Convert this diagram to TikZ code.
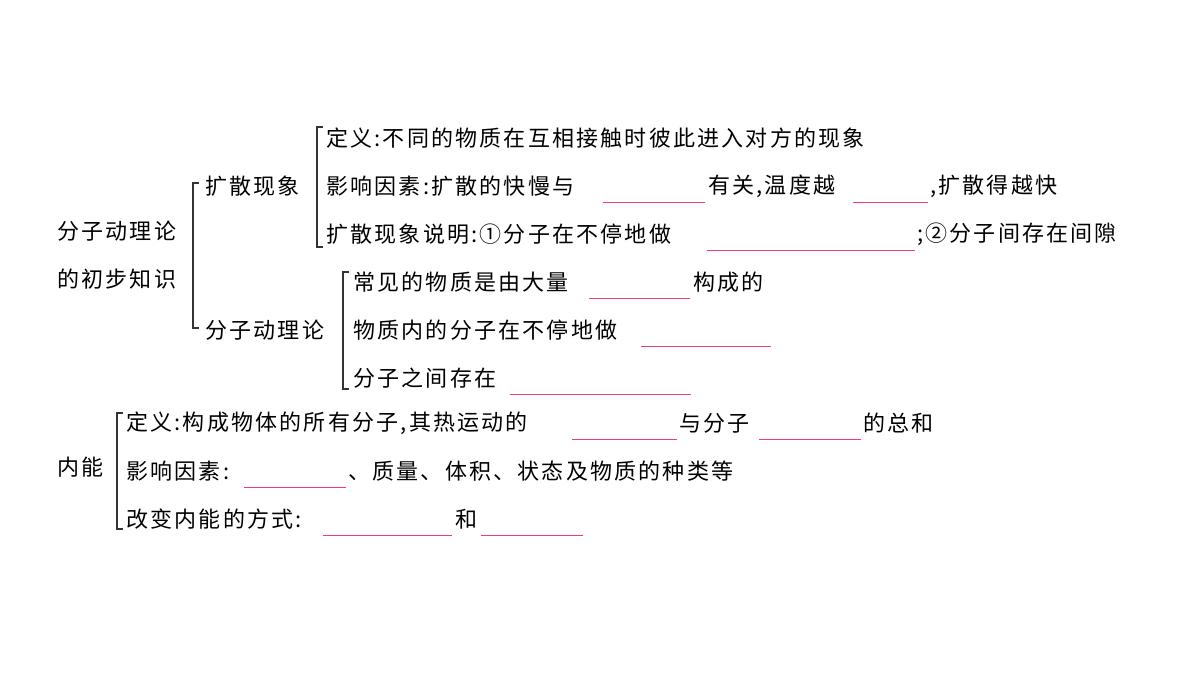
\documentclass[tikz,border=0pt]{standalone}
\usepackage{fontspec}
\setmainfont{Noto Sans CJK SC}[LetterSpace=10]
\begin{document}
\begin{tikzpicture}[x=0.75pt,y=-0.75pt,
  t/.style={anchor=west,inner sep=0pt,font=\fontsize{16.5}{18}\selectfont},
  br/.style={line width=0.8pt,black!80},
  bl/.style={line width=0.6pt,magenta!70!red!80}]
\useasboundingbox (0,0) rectangle (1200,675);
% brackets
\draw[br] (199,183) -- (193,183) -- (193,328) -- (199,328);
\draw[br] (323,127) -- (317,127) -- (317,247) -- (323,247);
\draw[br] (349,272) -- (343,272) -- (343,389) -- (349,389);
\draw[br] (123,413) -- (117,413) -- (117,529) -- (123,529);
% left labels
\node[t] (a1) at (57,231) {分子动理论};
\node[t] (a2) at (57,279) {的初步知识};
\node[t] (k) at (205,186) {扩散现象};
\node[t] (f) at (205,330) {分子动理论};
\node[t] (n) at (57,467) {内能};
% diffusion
\node[t] (d1) at (326,138) {定义:不同的物质在互相接触时彼此进入对方的现象};
\node[t] (d2) at (326,186) {影响因素:扩散的快慢与};
\node[t] (d2b) at (708,186) {有关,温度越};
\node[t] (d2c) at (930,186) {,扩散得越快};
\node[t] (d3) at (326,234) {扩散现象说明:①分子在不停地做};
\node[t] (d3b) at (917,234) {;②分子间存在间隙};
% theory
\node[t] (m1) at (353,282) {常见的物质是由大量};
\node[t] (m1b) at (693,282) {构成的};
\node[t] (m2) at (353,330) {物质内的分子在不停地做};
\node[t] (m3) at (353,378) {分子之间存在};
% internal energy
\node[t] (e1) at (126,423) {定义:构成物体的所有分子,其热运动的};
\node[t] (e1b) at (679,423) {与分子};
\node[t] (e1c) at (863,423) {的总和};
\node[t] (e2) at (126,471) {影响因素:};
\node[t] (e2b) at (348,471) {、质量、体积、状态及物质的种类等};
\node[t] (e3) at (126,519) {改变内能的方式:};
\node[t] (e3b) at (455,519) {和};
% blanks
\draw[bl] (603,202) -- (705,202);
\draw[bl] (853,202) -- (928,202);
\draw[bl] (707,250) -- (915,250);
\draw[bl] (589,298) -- (690,298);
\draw[bl] (641,346) -- (771,346);
\draw[bl] (510,394) -- (691,394);
\draw[bl] (572,439) -- (677,439);
\draw[bl] (759,439) -- (861,439);
\draw[bl] (244,487) -- (346,487);
\draw[bl] (323,535) -- (452,535);
\draw[bl] (481,535) -- (583,535);
\end{tikzpicture}
\end{document}
